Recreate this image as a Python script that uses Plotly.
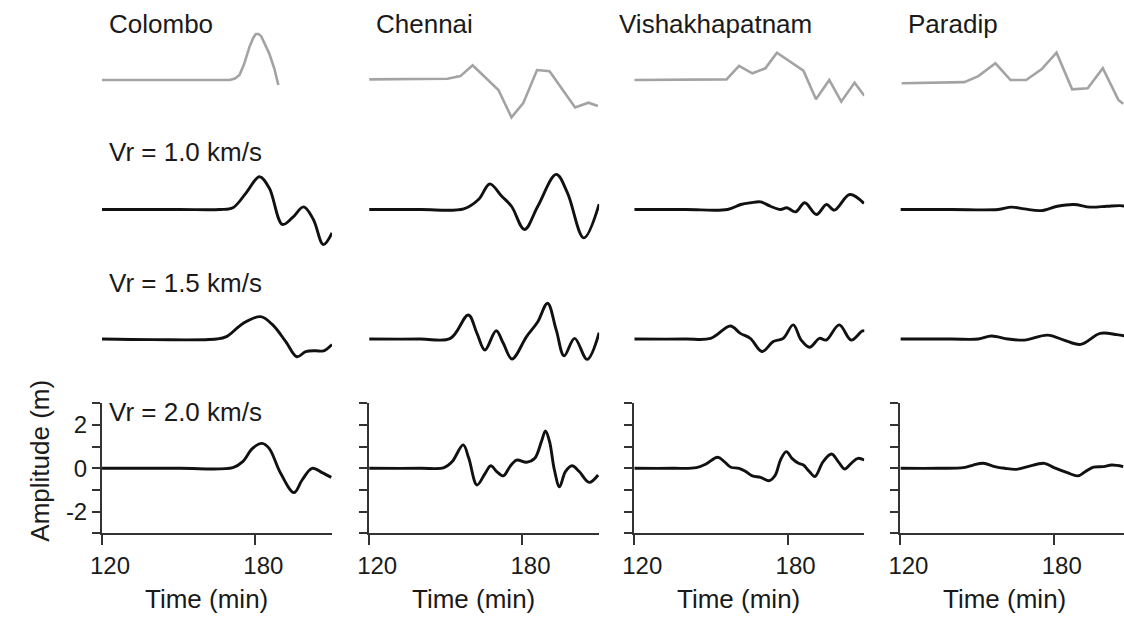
import plotly.graph_objects as go

stations = ["Colombo", "Chennai", "Vishakhapatnam", "Paradip"]
row_labels = ["", "Vr = 1.0 km/s", "Vr = 1.5 km/s", "Vr = 2.0 km/s"]
x_tick_vals = [120, 180]
x_tick_text = ["120", "180"]
y_tick_vals = [-3, -2, -1, 0, 1, 2, 3]
y_tick_text = ["", "-2", "", "0", "", "2", ""]

# ---------- Row 1: observed (gray) ----------
obs_colombo_t = [120, 150, 170, 172, 173.8, 175.5, 177.7, 179.2, 180.2, 181.2, 182.3, 185.4, 187.4, 189]
obs_colombo_a = [0, 0, 0, 0.07, 0.23, 0.7, 1.53, 1.95, 2.12, 2.12, 2.02, 1.23, 0.54, -0.23]
obs_chennai_t = [120, 150.6, 155.7, 160.5, 170.6, 175.7, 180.3, 185.7, 190.6, 200.6, 205.8, 209.5]
obs_chennai_a = [0.03, 0.06, 0.18, 0.68, -0.46, -1.72, -1.07, 0.46, 0.40, -1.27, -1.05, -1.2]
obs_vishakha_t = [120, 156.1, 161, 166.2, 171.3, 175.8, 186.2, 191.1, 196.3, 201, 206.2, 210]
obs_vishakha_a = [0, 0.03, 0.65, 0.31, 0.54, 1.26, 0.43, -0.89, 0, -1.0, -0.12, -0.72]
obs_paradip_t = [120.5, 145, 150.5, 157.2, 163.1, 169.2, 175.2, 181.1, 187.2, 193.3, 199.2, 205.3, 207.2]
obs_paradip_a = [-0.15, -0.1, 0.18, 0.77, 0, 0, 0.49, 1.26, -0.43, -0.38, 0.54, -0.92, -1.1]

# ---------- Row 2: Vr = 1.0 km/s ----------
v10_colombo_t = [120, 150, 166.1, 171.2, 176.4, 181.6, 185.4, 190.6, 194.5, 198.9, 202.7, 206.6, 210]
v10_colombo_a = [0, 0, 0, 0.08, 0.77, 1.51, 1.0, -0.69, -0.38, 0.12, -0.46, -1.62, -1.08]
v10_chennai_t = [120, 140, 157, 162.8, 167.2, 171.8, 175.7, 180.8, 186, 193.2, 197.6, 204, 210]
v10_chennai_a = [0, 0, 0.03, 0.46, 1.18, 0.62, 0.15, -0.92, 0.15, 1.62, 0.77, -1.31, 0.25]
v10_vishakha_t = [120, 140, 156.5, 161.7, 165.6, 169.4, 173.3, 177.2, 179.7, 183.1, 186.7, 191.3, 195.2, 198.3, 204.3, 209.9]
v10_vishakha_a = [0, 0, 0, 0.23, 0.31, 0.35, 0.15, 0, 0.08, -0.11, 0.31, -0.23, 0.23, -0.03, 0.69, 0.28]
v10_paradip_t = [120, 140, 158.2, 163.4, 168.5, 175, 181.4, 187.9, 194.3, 200.8, 206, 208]
v10_paradip_a = [0, 0, 0, 0.11, 0.03, -0.05, 0.15, 0.23, 0.11, 0.15, 0.18, 0.15]

# ---------- Row 3: Vr = 1.5 km/s ----------
v15_colombo_t = [120, 140, 164.8, 168.7, 175.2, 182.1, 186.8, 191.9, 196.3, 199.7, 203.6, 206.6, 210]
v15_colombo_a = [0, -0.03, 0, 0.11, 0.72, 1.03, 0.65, -0.12, -0.82, -0.58, -0.54, -0.55, -0.25]
v15_chennai_t = [120, 140, 151.8, 158.8, 162.2, 165.3, 169.7, 172.5, 175.9, 181.6, 186, 189.8, 193.2, 196.3, 200.4, 205.3, 210]
v15_chennai_a = [0, 0, 0.03, 1.11, 0.26, -0.51, 0.38, -0.2, -0.92, 0.11, 0.8, 1.65, 0.42, -0.78, 0.03, -0.94, 0.29]
v15_vishakha_t = [120, 140, 149.9, 157.6, 161.5, 165.4, 170, 174.4, 178.3, 182.2, 185.3, 188.6, 192.5, 195.1, 200.2, 204.9, 209.3, 211]
v15_vishakha_a = [0, 0, 0.03, 0.6, 0.26, 0.03, -0.58, -0.12, 0.03, 0.65, -0.05, -0.38, 0.03, -0.05, 0.65, -0.05, 0.37, 0.37]
v15_paradip_t = [120, 140, 150.5, 155.6, 162.1, 168.5, 177.6, 184, 190.5, 198.2, 204.7, 208]
v15_paradip_a = [0, 0, 0, 0.14, 0, -0.05, 0.18, -0.05, -0.25, 0.26, 0.2, 0.14]

# ---------- Row 4: Vr = 2.0 km/s ----------
v20_colombo_t = [120, 150, 171.2, 175.1, 178.9, 182.6, 185.4, 189.9, 195.1, 198.3, 202.2, 206.1, 209.7]
v20_colombo_a = [0, 0, 0.03, 0.31, 0.92, 1.15, 0.92, -0.23, -1.12, -0.54, 0, -0.2, -0.42]
v20_chennai_t = [120, 140, 149.3, 152.5, 156.8, 159, 162.2, 165.4, 167.6, 169.9, 172.5, 175.1, 177.7, 181.6,
                 184.8, 187.4, 189, 190.6, 192.5, 194.5, 196.8, 199.4, 202.2, 206.1, 209.6]
v20_chennai_a = [0, 0, 0.03, 0.31, 1.08, 0.46, -0.77, -0.23, 0.12, -0.15, -0.35, 0.08, 0.38, 0.28,
                 0.46, 1.23, 1.72, 1.23, -0.08, -0.85, -0.15, 0.12, -0.15, -0.65, -0.31]
v20_vishakha_t = [120, 135, 144.3, 148.1, 152.6, 155.2, 157.8, 161, 163.6, 166.2, 169.4, 172.9, 175.2, 177.2,
                  179.5, 181.7, 184.3, 186.2, 188.5, 190.7, 193.9, 197.2, 199.8, 202.3, 204.9, 207.5, 210]
v20_vishakha_a = [0, 0, 0.03, 0.2, 0.51, 0.31, 0.05, 0, -0.15, -0.35, -0.42, -0.57, -0.31, 0.38,
                  0.77, 0.46, 0.23, 0.15, -0.15, -0.38, 0.31, 0.66, 0.31, -0.03, 0.23, 0.46, 0.38]
v20_paradip_t = [120, 135, 144.7, 148.5, 152.4, 156.9, 160.8, 165.3, 169.8, 176.3, 180.1, 185.3, 189.4, 192.4,
                 195.6, 199.5, 202.7, 207.2]
v20_paradip_a = [0, 0, 0.03, 0.15, 0.23, 0.08, 0, -0.05, 0.08, 0.23, 0.03, -0.2, -0.35, -0.15,
                 0.05, 0.08, 0.15, 0.08]

series = [
    [(obs_colombo_t, obs_colombo_a), (obs_chennai_t, obs_chennai_a),
     (obs_vishakha_t, obs_vishakha_a), (obs_paradip_t, obs_paradip_a)],
    [(v10_colombo_t, v10_colombo_a), (v10_chennai_t, v10_chennai_a),
     (v10_vishakha_t, v10_vishakha_a), (v10_paradip_t, v10_paradip_a)],
    [(v15_colombo_t, v15_colombo_a), (v15_chennai_t, v15_chennai_a),
     (v15_vishakha_t, v15_vishakha_a), (v15_paradip_t, v15_paradip_a)],
    [(v20_colombo_t, v20_colombo_a), (v20_chennai_t, v20_chennai_a),
     (v20_vishakha_t, v20_vishakha_a), (v20_paradip_t, v20_paradip_a)],
]

# ---------- layout geometry (pixels) ----------
W, H = 1124, 617
col_left = [91, 361, 629, 898]
px_per_min = 2.583
row_base = [80, 209.5, 339, 468.3]
half_h = 65
FONT = "Liberation Sans, Arial, sans-serif"
TXT = "#1a1a1a"
AX = "#333333"

fig = go.Figure()
layout = dict(
    width=W, height=H, margin=dict(l=0, r=0, t=0, b=0),
    paper_bgcolor="white", plot_bgcolor="white", showlegend=False,
    font=dict(family=FONT, size=24, color=TXT),
)
annotations = []

for r in range(4):
    for c in range(4):
        i = r * 4 + c + 1
        xn = "x" if i == 1 else f"x{i}"
        yn = "y" if i == 1 else f"y{i}"
        xk = "xaxis" if i == 1 else f"xaxis{i}"
        yk = "yaxis" if i == 1 else f"yaxis{i}"
        x0 = col_left[c]
        x1 = min(x0 + 90 * px_per_min, W)
        xmax = 120 + (x1 - x0) / px_per_min
        top = row_base[r] - half_h
        bot = row_base[r] + half_h
        t, a = series[r][c]
        if r == 0:
            line = dict(color="#a3a3a3", width=2.6)
        else:
            line = dict(color="#111111", width=2.9, shape="spline", smoothing=1.0)
        fig.add_trace(go.Scatter(x=t, y=a, mode="lines", line=line,
                                 xaxis=xn, yaxis=yn, hoverinfo="skip"))
        bottom = (r == 3)
        layout[xk] = dict(
            domain=[x0 / W, x1 / W], range=[120, xmax], anchor=yn,
            visible=bottom, showgrid=False, zeroline=False,
            showline=True, linecolor=AX, linewidth=2,
            ticks="outside", ticklen=10, tickwidth=2, tickcolor=AX,
            tickvals=x_tick_vals, ticktext=x_tick_text,
            tickfont=dict(size=24, color=TXT), ticklabelshift=8,
        )
        layout[yk] = dict(
            domain=[1 - bot / H, 1 - top / H], range=[-3, 3], anchor=xn,
            visible=bottom, showgrid=False, zeroline=False,
            showline=True, linecolor=AX, linewidth=2,
            ticks="outside", ticklen=8, tickwidth=2, tickcolor=AX,
            tickvals=y_tick_vals,
            ticktext=y_tick_text if c == 0 else [""] * len(y_tick_vals),
            tickfont=dict(size=24, color=TXT),
        )

# station titles
title_x = [96, 366, 612, 904]
for c, name in enumerate(stations):
    annotations.append(dict(text=name, x=title_x[c] / W, y=1 - 24 / H, xref="paper", yref="paper",
                            xanchor="left", yanchor="middle", showarrow=False,
                            font=dict(size=26, color=TXT, family=FONT)))
# Vr labels
vr_y = [0, 152, 283, 412]
for r in range(1, 4):
    annotations.append(dict(text=row_labels[r], x=96 / W, y=1 - vr_y[r] / H, xref="paper", yref="paper",
                            xanchor="left", yanchor="middle", showarrow=False,
                            font=dict(size=26, color=TXT, family=FONT)))
# x axis titles
for c in range(4):
    annotations.append(dict(text="Time (min)", x=(col_left[c] + 105.5) / W, y=1 - 599 / H,
                            xref="paper", yref="paper", xanchor="center", yanchor="middle",
                            showarrow=False, font=dict(size=26, color=TXT, family=FONT)))
# y axis title
annotations.append(dict(text="Amplitude (m)", x=28 / W, y=1 - 461 / H, xref="paper", yref="paper",
                        xanchor="center", yanchor="middle", textangle=-90, showarrow=False,
                        font=dict(size=26, color=TXT, family=FONT)))

layout["annotations"] = annotations
fig.update_layout(**layout)
fig.write_html("out.html")
